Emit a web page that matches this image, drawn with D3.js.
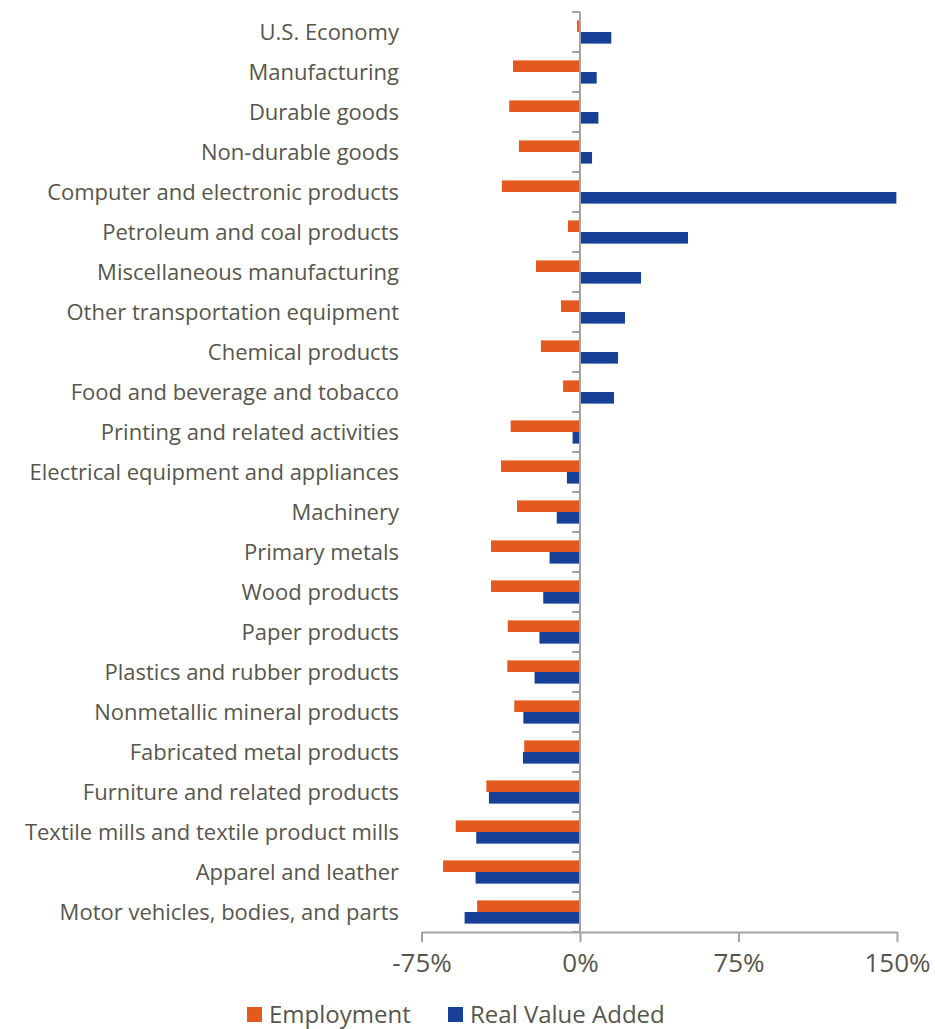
<!DOCTYPE html>
<html>
<head>
<meta charset="utf-8">
<script src="https://cdn.jsdelivr.net/npm/d3@7"></script>
<style>
  html, body { margin: 0; padding: 0; background: #fff; }
  svg text { font-family: "Open Sans", sans-serif; fill: #57564c; }
</style>
</head>
<body>
<div id="chart"></div>
<script>
const categories = [
    "U.S. Economy", "Manufacturing", "Durable goods", "Non-durable goods",
    "Computer and electronic products", "Petroleum and coal products",
    "Miscellaneous manufacturing", "Other transportation equipment",
    "Chemical products", "Food and beverage and tobacco",
    "Printing and related activities", "Electrical equipment and appliances",
    "Machinery", "Primary metals", "Wood products", "Paper products",
    "Plastics and rubber products", "Nonmetallic mineral products",
    "Fabricated metal products", "Furniture and related products",
    "Textile mills and textile product mills", "Apparel and leather",
    "Motor vehicles, bodies, and parts"
];
// percent change
const employment = [
    -1.4, -31.7, -33.5, -28.9, -37.0, -5.7, -20.8, -9.0, -18.5, -8.0,
    -32.8, -37.4, -29.8, -42.1, -42.1, -34.2, -34.4, -31.1, -26.4, -44.3,
    -58.8, -64.8, -48.7
];
const realValueAdded = [
    14.8, 7.9, 8.7, 5.7, 149.7, 51.1, 28.9, 21.3, 18.0, 16.1,
    -3.5, -6.2, -11.0, -14.4, -17.4, -19.2, -21.5, -26.8, -27.0, -43.1,
    -49.1, -49.4, -54.6
];
const xTicks = [-75, 0, 75, 150];
const seriesNames = ["Employment", "Real Value Added"];
const seriesColors = ["#e3591f", "#174096"];

const width = 935, height = 1029;
const svg = d3.select("#chart").append("svg")
    .attr("width", width)
    .attr("height", height);

const x = d3.scaleLinear().domain([-75, 150]).range([421.5, 897]);
const y = d3.scaleBand().domain(categories).range([12, 932])
    .paddingInner(0.42).paddingOuter(0.21);
const inner = d3.scaleBand().domain(seriesNames).range([0, y.bandwidth()]);

const rows = categories.map((c, i) => ({
    name: c,
    values: [employment[i], realValueAdded[i]]
}));

const row = svg.append("g").selectAll("g")
    .data(rows)
    .join("g")
    .attr("transform", d => `translate(0,${y(d.name)})`);

row.selectAll("rect")
    .data(d => d.values.map((v, j) => ({key: seriesNames[j], value: v, j: j})))
    .join("rect")
    .attr("x", d => x(Math.min(0, d.value)))
    .attr("width", d => Math.abs(x(d.value) - x(0)))
    .attr("y", d => inner(d.key))
    .attr("height", inner.bandwidth())
    .attr("fill", d => seriesColors[d.j]);

// category labels
svg.append("g").selectAll("text")
    .data(categories)
    .join("text")
    .attr("x", 399)
    .attr("y", d => y(d) + y.bandwidth() / 2)
    .attr("dy", "0.35em")
    .attr("text-anchor", "end")
    .attr("font-size", 22)
    .text(d => d);

// vertical zero axis with category ticks
const axisColor = "#a3a3a3";
const step = y.step();
const yBounds = d3.range(categories.length + 1).map(i => 12 + i * step);
svg.append("line")
    .attr("x1", x(0)).attr("x2", x(0))
    .attr("y1", 12).attr("y2", 932)
    .attr("stroke", axisColor).attr("stroke-width", 2);
svg.append("g").selectAll("line")
    .data(yBounds)
    .join("line")
    .attr("x1", x(0) - 8).attr("x2", x(0))
    .attr("y1", d => d).attr("y2", d => d)
    .attr("stroke", axisColor).attr("stroke-width", 2);

// x axis
const xAxis = svg.append("g")
    .attr("transform", "translate(0,932)")
    .call(d3.axisBottom(x).tickValues(xTicks).tickSize(10).tickSizeOuter(0)
        .tickFormat(d => (d < 0 ? "-" + Math.abs(d) : d) + "%"));
xAxis.select(".domain").attr("stroke", axisColor).attr("stroke-width", 2);
xAxis.selectAll(".tick line").attr("stroke", axisColor).attr("stroke-width", 2);
xAxis.selectAll(".tick text")
    .attr("font-size", 26)
    .attr("font-family", "Open Sans, sans-serif")
    .attr("fill", "#57564c")
    .attr("y", 22)
    .attr("dy", "0.71em");

// legend
const legendX = [247, 448];
const legend = svg.append("g").selectAll("g")
    .data(seriesNames)
    .join("g")
    .attr("transform", (d, i) => `translate(${legendX[i]},1007)`);
legend.append("rect")
    .attr("width", 15).attr("height", 15)
    .attr("fill", (d, i) => seriesColors[i]);
legend.append("text")
    .attr("x", 22).attr("y", 8)
    .attr("dy", "0.35em")
    .attr("font-size", 24)
    .text(d => d);
</script>
</body>
</html>
